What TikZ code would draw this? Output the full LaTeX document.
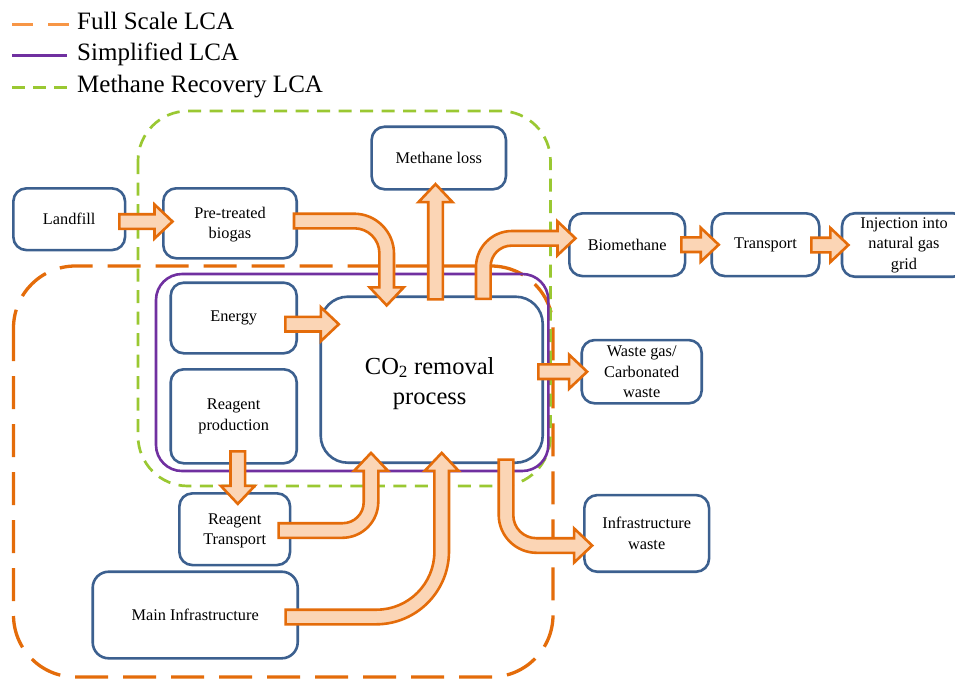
\documentclass[tikz,border=0pt]{standalone}
\usepackage{fontspec}
\setmainfont{Liberation Serif}
\usetikzlibrary{calc}

\definecolor{boxblue}{RGB}{60,96,143}
\definecolor{arrowline}{RGB}{228,108,10}
\definecolor{arrowfill}{RGB}{251,213,181}
\definecolor{scaleorange}{RGB}{228,108,10}
\definecolor{legendorange}{RGB}{247,150,70}
\definecolor{simpurple}{RGB}{112,48,160}
\definecolor{recgreen}{RGB}{154,200,50}

% block arrow geometry: half shaft width, half head width, head length
\newcommand\arShaft{7.3pt}
\newcommand\arHead{17pt}
\newcommand\arLen{18pt}

\tikzset{
  blockarrow/.style={draw=arrowline, fill=arrowfill, line width=2.6pt, line join=miter, miter limit=10},
  stage/.style={draw=boxblue, fill=white, line width=2.6pt, rounded corners=13pt, align=center,
    inner sep=0pt, font=\fontsize{16.3}{20.5}\selectfont},
  fullscale/.style={draw=scaleorange, line width=3.3pt, dash pattern=on 33pt off 15pt},
  simplified/.style={draw=simpurple, line width=2.6pt},
  recovery/.style={draw=recgreen, line width=2.7pt, dash pattern=on 13pt off 8.5pt},
  legendtext/.style={anchor=base west, inner sep=0pt, font=\fontsize{25}{30}\selectfont},
}

% straight block arrows: #1 start point, #2 tip point
\newcommand\flowright[2]{\draw[blockarrow] let \p1=(#1), \p2=(#2) in
  (\x1,\y1+\arShaft) -- (\x2-\arLen,\y1+\arShaft) -- (\x2-\arLen,\y1+\arHead) -- (\x2,\y1)
  -- (\x2-\arLen,\y1-\arHead) -- (\x2-\arLen,\y1-\arShaft) -- (\x1,\y1-\arShaft) -- cycle;}
\newcommand\flowup[2]{\draw[blockarrow] let \p1=(#1), \p2=(#2) in
  (\x1-\arShaft,\y1) -- (\x1-\arShaft,\y2-\arLen) -- (\x1-\arHead,\y2-\arLen) -- (\x1,\y2)
  -- (\x1+\arHead,\y2-\arLen) -- (\x1+\arShaft,\y2-\arLen) -- (\x1+\arShaft,\y1) -- cycle;}
\newcommand\flowdown[2]{\draw[blockarrow] let \p1=(#1), \p2=(#2) in
  (\x1-\arShaft,\y1) -- (\x1-\arShaft,\y2+\arLen) -- (\x1-\arHead,\y2+\arLen) -- (\x1,\y2)
  -- (\x1+\arHead,\y2+\arLen) -- (\x1+\arShaft,\y2+\arLen) -- (\x1+\arShaft,\y1) -- cycle;}

% bent block arrows: #1 start, #2 tip, #3 outer radius, #4 inner radius
\newcommand\flowrightdown[4]{\draw[blockarrow] let \p1=(#1), \p2=(#2) in
  (\x1,\y1+\arShaft) [rounded corners=#3] -- (\x2+\arShaft,\y1+\arShaft) [sharp corners]
  -- (\x2+\arShaft,\y2+\arLen) -- (\x2+\arHead,\y2+\arLen) -- (\x2,\y2)
  -- (\x2-\arHead,\y2+\arLen) -- (\x2-\arShaft,\y2+\arLen) [rounded corners=#4]
  -- (\x2-\arShaft,\y1-\arShaft) [sharp corners] -- (\x1,\y1-\arShaft) -- cycle;}
\newcommand\flowupright[4]{\draw[blockarrow] let \p1=(#1), \p2=(#2) in
  (\x1-\arShaft,\y1) [rounded corners=#3] -- (\x1-\arShaft,\y2+\arShaft) [sharp corners]
  -- (\x2-\arLen,\y2+\arShaft) -- (\x2-\arLen,\y2+\arHead) -- (\x2,\y2)
  -- (\x2-\arLen,\y2-\arHead) -- (\x2-\arLen,\y2-\arShaft) [rounded corners=#4]
  -- (\x1+\arShaft,\y2-\arShaft) [sharp corners] -- (\x1+\arShaft,\y1) -- cycle;}
\newcommand\flowrightup[4]{\draw[blockarrow] let \p1=(#1), \p2=(#2) in
  (\x1,\y1-\arShaft) [rounded corners=#3] -- (\x2+\arShaft,\y1-\arShaft) [sharp corners]
  -- (\x2+\arShaft,\y2-\arLen) -- (\x2+\arHead,\y2-\arLen) -- (\x2,\y2)
  -- (\x2-\arHead,\y2-\arLen) -- (\x2-\arShaft,\y2-\arLen) [rounded corners=#4]
  -- (\x2-\arShaft,\y1+\arShaft) [sharp corners] -- (\x1,\y1+\arShaft) -- cycle;}
\newcommand\flowdownright[4]{\draw[blockarrow] let \p1=(#1), \p2=(#2) in
  (\x1-\arShaft,\y1) [rounded corners=#3] -- (\x1-\arShaft,\y2-\arShaft) [sharp corners]
  -- (\x2-\arLen,\y2-\arShaft) -- (\x2-\arLen,\y2-\arHead) -- (\x2,\y2)
  -- (\x2-\arLen,\y2+\arHead) -- (\x2-\arLen,\y2+\arShaft) [rounded corners=#4]
  -- (\x1+\arShaft,\y2+\arShaft) [sharp corners] -- (\x1+\arShaft,\y1) -- cycle;}

\begin{document}
\begin{tikzpicture}[x=1pt,y=-1pt]
\useasboundingbox (0,0) rectangle (955,681);
\clip (0,0) rectangle (955,681);
\fill[white] (0,0) rectangle (955,681);

% system boundaries
\draw[fullscale, rounded corners=62pt] (13.5,266) rectangle (553,677);
\draw[recovery, rounded corners=50pt] (138,111) rectangle (550.5,486);
\draw[simplified, rounded corners=26pt] (156,274) rectangle (548.3,471);

% process stages
\node[stage, minimum width=111.7pt, minimum height=61.7pt] (landfill) at (69.2,219.2) {Landfill};
\node[stage, minimum width=133.4pt, minimum height=70pt] (pretreated) at (230,223.3) {\strut Pre-treated\\biogas};
\node[stage, minimum width=134.3pt, minimum height=62.6pt] (methaneloss) at (438.8,158) {Methane loss};
\node[stage, minimum width=115.7pt, minimum height=62.7pt] (biomethane) at (627.2,244.7) {Biomethane};
\node[stage, minimum width=107.6pt, minimum height=62.7pt] (transport) at (765.5,244.7) {Transport};
\node[stage, minimum width=124pt, minimum height=63.5pt] (injection) at (904,245) {Injection into\\natural gas\\grid};
\node[stage, minimum width=126pt, minimum height=70.6pt] (energy) at (233.7,318) {Energy};
\node[stage, minimum width=126pt, minimum height=94pt] (reagentprod) at (233.7,416.3) {Reagent\\production};
\node[stage, rounded corners=27pt, minimum width=222pt, minimum height=166pt,
      font=\fontsize{24.5}{30}\selectfont] (co2) at (431.7,379.7) {};
\node[align=center, inner sep=0pt, font=\fontsize{24.5}{30}\selectfont] (co2label)
      at ($(co2.center)+(-2,3.5)$) {CO\textsubscript{2} removal\\process};
\node[stage, minimum width=120pt, minimum height=63.3pt] (wastegas) at (641.7,371.7) {Waste gas/\\Carbonated\\waste};
\node[stage, minimum width=110.7pt, minimum height=71.7pt] (reagenttransport) at (234.7,529.2) {\strut Reagent\\Transport};
\node[stage, rounded corners=16pt, minimum width=205pt, minimum height=86.6pt] (maininfra) at (195.2,615) {Main Infrastructure};
\node[stage, minimum width=124.7pt, minimum height=76.7pt] (infrawaste) at (646.7,533.4) {Infrastructure\\waste};

% material and energy flows
\flowright{$(landfill.east)+(-7,2.3)$}{$(pretreated.west)+(10.5,0)$}
\flowrightdown{$(pretreated.east)+(-4,-2.3)$}{$(co2.north)+(-45,10)$}{40pt}{25pt}
\flowup{$(co2.north)+(3.8,4)$}{$(methaneloss.south)+(0,-6.5)$}
\flowupright{$(co2.north)+(51.6,3.5)$}{$(biomethane.west)+(7.4,-6.4)$}{36pt}{21pt}
\flowright{$(biomethane.east)+(-5,0)$}{$(transport.west)+(8.3,0)$}
\flowright{$(transport.east)+(-9.3,0.3)$}{$(injection.west)+(7.7,0)$}
\flowright{$(energy.east)+(-12.7,6.2)$}{$(co2.west)+(19.4,0)$}
\flowright{$(co2.east)+(-5.7,-8)$}{$(wastegas.west)+(6.7,0)$}
\flowdown{$(reagentprod.south)+(4.1,-13.3)$}{$(reagenttransport.north)+(0,11.8)$}
\flowrightup{$(reagenttransport.east)+(-12.7,1.3)$}{$(co2.south)+(-60.7,-11.1)$}{36pt}{21pt}
\flowrightup{$(maininfra.east)+(-13.4,2)$}{$(co2.south)+(10,-11.1)$}{73pt}{58pt}
\flowdownright{$(co2.south)+(74.3,-4.4)$}{$(infrawaste.west)+(9.1,12.1)$}{38pt}{23pt}

% legend
\draw[legendorange, line width=3.3pt, dash pattern=on 21pt off 15pt] (12,24.3) -- (69,24.3);
\node[legendtext] (legfull) at (77,29.5) {Full Scale LCA};
\draw[simplified] (12,55.7) -- (66.7,55.7);
\node[legendtext] (legsimple) at (77,60.5) {Simplified LCA};
\draw[recgreen, line width=2.7pt, dash pattern=on 13pt off 8pt] (12,87.3) -- (67,87.3);
\node[legendtext] (legrecovery) at (77,92) {Methane Recovery LCA};
\end{tikzpicture}
\end{document}
